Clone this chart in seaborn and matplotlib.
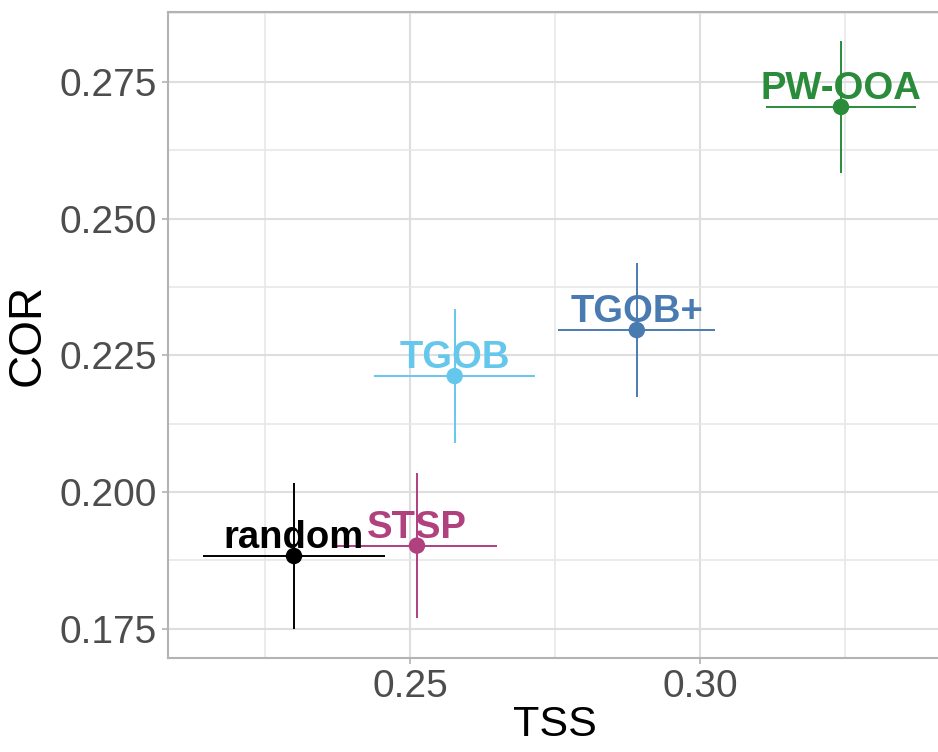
import matplotlib
matplotlib.use("Agg")
import matplotlib.pyplot as plt
from matplotlib.ticker import MultipleLocator, FixedLocator
import seaborn as sns
import pandas as pd

# values
methods = ["random", "STSP", "TGOB", "TGOB+", "PW-OOA"]
tss = [0.2300, 0.2512, 0.2577, 0.2891, 0.3243]
cor = [0.1883, 0.1902, 0.2212, 0.2296, 0.2704]
tss_err = [0.0157, 0.0138, 0.0139, 0.0135, 0.0129]
cor_err = [0.0133, 0.0132, 0.0122, 0.0122, 0.0120]
colors = ["#000000", "#B0407E", "#66C7EC", "#4A7BB0", "#2A8B3B"]

df = pd.DataFrame({"method": methods, "TSS": tss, "COR": cor,
                   "tss_err": tss_err, "cor_err": cor_err})

sns.set_style("whitegrid")
plt.rcParams["font.family"] = ["Liberation Sans", "DejaVu Sans"]

fig = plt.figure(figsize=(9.38, 7.52), dpi=100)
ax = fig.add_axes([0.1791, 0.125, 0.8252, 0.859])

# error bars first so the dots sit on top
for _, row in df.iterrows():
    c = colors[methods.index(row["method"])]
    ax.errorbar(row["TSS"], row["COR"], xerr=row["tss_err"], yerr=row["cor_err"],
                fmt="none", ecolor=c, elinewidth=1.4, capsize=0, zorder=3)

sns.scatterplot(data=df, x="TSS", y="COR", hue="method", palette=colors,
                hue_order=methods, s=140, linewidth=0, legend=False, ax=ax, zorder=4)

for _, row in df.iterrows():
    c = colors[methods.index(row["method"])]
    ax.annotate(row["method"], (row["TSS"], row["COR"]), xytext=(0, 5.5),
                textcoords="offset points", ha="center", va="baseline",
                fontsize=27.5, fontweight="bold", color=c, zorder=5)

ax.set_xlim(0.20828, 0.34172)
ax.set_ylim(0.16965, 0.28775)

ax.xaxis.set_major_locator(FixedLocator([0.25, 0.30]))
ax.xaxis.set_minor_locator(FixedLocator([0.225, 0.275, 0.325]))
ax.yaxis.set_major_locator(MultipleLocator(0.025))
ax.yaxis.set_minor_locator(FixedLocator([0.1875, 0.2125, 0.2375, 0.2625, 0.2875]))
ax.set_xticklabels(["0.25", "0.30"])
ax.set_yticks([0.175, 0.2, 0.225, 0.25, 0.275])
ax.set_yticklabels(["0.175", "0.200", "0.225", "0.250", "0.275"])

ax.grid(which="major", color="#DEDEDE", linewidth=1.5)
ax.grid(which="minor", color="#E6E6E6", linewidth=1.1)
ax.set_axisbelow(True)

for side in ["left", "top", "bottom"]:
    ax.spines[side].set_color("#B3B3B3")
    ax.spines[side].set_linewidth(1.5)
ax.spines["right"].set_visible(False)

ax.tick_params(axis="both", which="major", length=4, width=1.2, color="#B3B3B3",
               labelsize=28, labelcolor="#4D4D4D", pad=4, direction="out",
               bottom=True, left=True)
ax.tick_params(axis="both", which="minor", length=0)

ax.set_xlabel("TSS", fontsize=31, color="black", labelpad=0)
ax.set_ylabel("COR", fontsize=33, color="black", labelpad=7)

fig.savefig("out.png", dpi=100)
